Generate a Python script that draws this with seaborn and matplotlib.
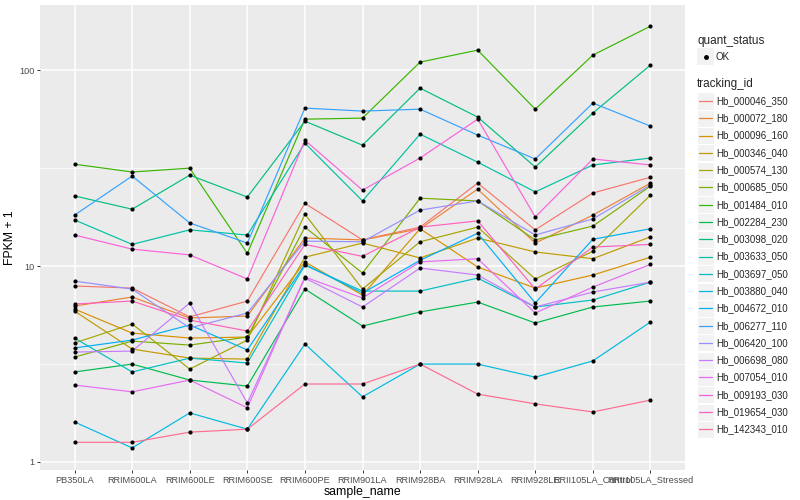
import matplotlib
matplotlib.use("Agg")
import matplotlib.pyplot as plt
from matplotlib.lines import Line2D
from matplotlib.patches import Rectangle
from matplotlib.ticker import FixedLocator, NullLocator
import pandas as pd
import seaborn as sns

samples = ["PB350LA", "RRIM600LA", "RRIM600LE", "RRIM600SE", "RRIM600PE",
           "RRIM901LA", "RRIM928BA", "RRIM928LA", "RRIM928LE",
           "RRII105LA_Control", "RRII105LA_Stressed"]

tracking_ids = ["Hb_000046_350", "Hb_000072_180", "Hb_000096_160", "Hb_000346_040",
                "Hb_000574_130", "Hb_000685_050", "Hb_001484_010", "Hb_002284_230",
                "Hb_003098_020", "Hb_003633_050", "Hb_003697_050", "Hb_003880_040",
                "Hb_004672_010", "Hb_006277_110", "Hb_006420_100", "Hb_006698_080",
                "Hb_007054_010", "Hb_009193_030", "Hb_019654_030", "Hb_142343_010"]

# ggplot default hue palette for 20 levels
colors = ["#F8766D", "#EA8331", "#D89000", "#C09B00", "#A3A500", "#7CAE00",
          "#39B600", "#00BB4E", "#00BF7D", "#00C1A3", "#00BFC4", "#00BAE0",
          "#00B0F6", "#35A2FF", "#9590FF", "#C77CFF", "#E76BF3", "#FA62DB",
          "#FF62BC", "#FF6C91"]

# FPKM + 1, one list per gene, in sample order
hb_000046_350 = [7.91, 7.72, 5.50, 6.63, 20.9, 13.6, 15.8, 26.5, 15.3, 23.6, 28.4]
hb_000072_180 = [6.25, 6.95, 5.43, 5.56, 13.9, 13.6, 15.5, 24.7, 13.1, 18.2, 26.5]
hb_000096_160 = [6.03, 4.55, 4.29, 4.34, 10.5, 7.11, 15.5, 9.88, 7.72, 9.00, 11.1]
hb_000346_040 = [5.89, 3.77, 3.39, 3.35, 11.1, 13.1, 11.0, 13.9, 11.8, 10.9, 14.1]
hb_000574_130 = [4.05, 5.06, 2.98, 4.19, 18.4, 7.63, 13.3, 15.8, 8.59, 11.9, 23.0]
hb_000685_050 = [3.43, 4.14, 3.95, 4.34, 15.8, 9.21, 22.2, 21.5, 13.6, 16.0, 25.6]
hb_001484_010 = [33.1, 30.2, 31.6, 11.6, 56.2, 56.9, 109.9, 126.5, 63.2, 119.3, 167.6]
hb_002284_230 = [2.88, 3.16, 2.62, 2.44, 7.63, 4.94, 5.83, 6.55, 5.12, 6.18, 6.63]
hb_003098_020 = [22.8, 19.5, 29.1, 22.5, 54.9, 41.4, 80.9, 57.6, 32.0, 60.4, 106.1]
hb_003633_050 = [17.2, 12.9, 15.3, 14.4, 42.4, 21.5, 47.1, 33.9, 23.9, 32.8, 35.6]
hb_003697_050 = [4.29, 2.88, 3.39, 3.20, 10.1, 7.45, 7.45, 8.68, 6.18, 6.71, 8.28]
hb_003880_040 = [1.60, 1.18, 1.78, 1.47, 4.00, 2.15, 3.16, 3.16, 2.71, 3.28, 5.18]
hb_004672_010 = [3.82, 4.19, 5.00, 3.73, 10.2, 7.28, 10.7, 14.7, 6.48, 13.7, 15.5]
hb_006277_110 = [18.2, 28.8, 16.6, 13.1, 64.0, 61.8, 63.2, 46.6, 35.2, 67.9, 51.8]
hb_006420_100 = [8.38, 7.63, 4.83, 5.76, 13.4, 13.3, 19.3, 21.5, 14.4, 17.4, 25.9]
hb_006698_080 = [3.64, 3.68, 6.48, 2.00, 8.68, 6.18, 9.77, 9.00, 6.18, 7.37, 8.28]
hb_007054_010 = [2.47, 2.28, 2.62, 1.89, 8.79, 6.87, 10.5, 10.9, 5.76, 7.81, 10.2]
hb_009193_030 = [14.4, 12.2, 11.4, 8.59, 43.9, 24.4, 35.6, 56.2, 17.8, 35.2, 32.8]
hb_019654_030 = [6.40, 6.63, 5.30, 4.66, 12.9, 11.2, 15.8, 17.0, 7.63, 12.5, 12.9]
hb_142343_010 = [1.26, 1.26, 1.42, 1.47, 2.50, 2.50, 3.16, 2.22, 1.98, 1.80, 2.07]

series = [hb_000046_350, hb_000072_180, hb_000096_160, hb_000346_040, hb_000574_130,
          hb_000685_050, hb_001484_010, hb_002284_230, hb_003098_020, hb_003633_050,
          hb_003697_050, hb_003880_040, hb_004672_010, hb_006277_110, hb_006420_100,
          hb_006698_080, hb_007054_010, hb_009193_030, hb_019654_030, hb_142343_010]

rows = []
for tid, vals in zip(tracking_ids, series):
    for i, (s, v) in enumerate(zip(samples, vals)):
        rows.append({"tracking_id": tid, "sample_name": s, "pos": i, "fpkm": v})
df = pd.DataFrame(rows)

sns.set_theme(style="darkgrid")
plt.rcParams["font.family"] = ["Liberation Sans", "DejaVu Sans"]

fig = plt.figure(figsize=(8, 5), dpi=100)
ax = fig.add_axes([40 / 800, 1 - 470 / 500, 645 / 800, 465 / 500])
ax.set_facecolor("#EBEBEB")

sns.lineplot(data=df, x="pos", y="fpkm", hue="tracking_id", hue_order=tracking_ids,
             palette=colors, estimator=None, sort=False, linewidth=0.85,
             legend=False, ax=ax)
sns.scatterplot(data=df, x="pos", y="fpkm", color="black", s=9, linewidth=0,
                legend=False, ax=ax, zorder=3)

ax.set_yscale("log")
ax.set_ylim(0.91, 215)
ax.set_xlim(-0.6, 10.6)
ax.yaxis.set_major_locator(FixedLocator([1, 10, 100]))
ax.yaxis.set_minor_locator(FixedLocator([10 ** 0.5, 10 ** 1.5]))
ax.set_yticklabels(["1", "10", "100"])
ax.set_xticks(range(len(samples)))
ax.set_xticklabels(samples)
ax.xaxis.set_minor_locator(NullLocator())

ax.grid(which="major", color="white", linewidth=1.1)
ax.grid(which="minor", axis="y", color="white", linewidth=0.5)
for sp in ax.spines.values():
    sp.set_visible(False)
ax.tick_params(which="major", length=2.5, width=0.7, color="#333333",
               labelsize=6.6, labelcolor="#4D4D4D", pad=1.5, bottom=True, left=True)
ax.tick_params(which="minor", length=0)

ax.set_xlabel("sample_name", fontsize=8.8, color="black", labelpad=1)
ax.set_ylabel("FPKM + 1", fontsize=8.8, color="black", labelpad=2)

# legends, drawn ggplot style
def fx(x):
    return x / 800

def fy(y):
    return 1 - y / 500

fig.text(fx(697), fy(41), "quant_status", fontsize=8.5, va="center", ha="left")
fig.add_artist(Rectangle((fx(697), fy(65)), 17 / 800, 17 / 500,
                         transform=fig.transFigure, facecolor="#F2F2F2", edgecolor="none"))
fig.add_artist(Line2D([fx(705.5)], [fy(57)], marker="o", markersize=2.5, color="black",
                      linestyle="none", transform=fig.transFigure))
fig.text(fx(716), fy(57), "OK", fontsize=7, va="center", ha="left")

fig.text(fx(697), fy(84), "tracking_id", fontsize=8.5, va="center", ha="left")
for k, (tid, c) in enumerate(zip(tracking_ids, colors)):
    yc = 101 + k * 17.28
    fig.add_artist(Rectangle((fx(697), fy(yc + 8.5)), 17 / 800, 17 / 500,
                             transform=fig.transFigure, facecolor="#F2F2F2",
                             edgecolor="white", linewidth=0.8))
    fig.add_artist(Line2D([fx(699), fx(712)], [fy(yc), fy(yc)], color=c, linewidth=0.9,
                          transform=fig.transFigure))
    fig.text(fx(716), fy(yc), tid, fontsize=7, va="center", ha="left")

fig.savefig("out.png", dpi=100)
